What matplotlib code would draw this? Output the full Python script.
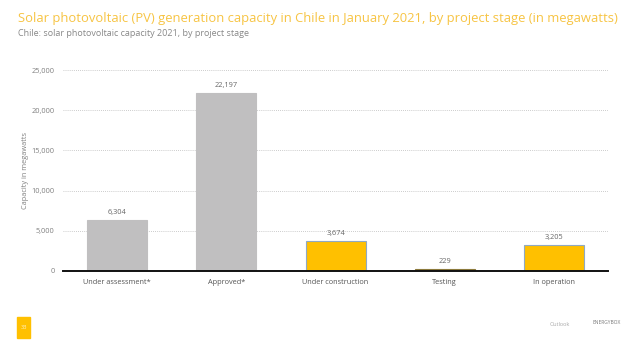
import matplotlib.pyplot as plt

stages = ['Under assessment*', 'Approved*', 'Under construction', 'Testing', 'In operation']
capacity = [6304, 22197, 3674, 229, 3205]
bar_colors = ['#c0bfc0', '#c0bfc0', '#ffc000', '#8c7a3c', '#ffc000']
edge_colors = ['#c0bfc0', '#c0bfc0', '#8fa9c4', '#8c7a3c', '#8fa9c4']
yticks = [0, 5000, 10000, 15000, 20000, 25000]

plt.rcParams['font.family'] = ['Open Sans', 'DejaVu Sans']

fig = plt.figure(figsize=(6.41, 3.5), dpi=100)
ax = fig.add_axes([0.098, 0.226, 0.851, 0.574])

x = range(len(stages))
ax.bar(x, capacity, width=0.55, color=bar_colors, edgecolor=edge_colors, linewidth=0.8, zorder=2)
for i, v in enumerate(capacity):
    ax.text(i, v + 500, f'{v:,}', ha='center', va='bottom', fontsize=5.3, color='#666666')

ax.set_xlim(-0.5, len(stages) - 0.5)
ax.set_ylim(0, 25000)
ax.set_yticks(yticks)
ax.set_yticklabels([f'{t:,}' for t in yticks], fontsize=5.3, color='#808080')
ax.set_xticks(list(x))
ax.set_xticklabels(stages, fontsize=5.3, color='#555555')
ax.tick_params(length=0, pad=6)
ax.yaxis.grid(True, linestyle=(0, (1, 1.5)), color='#bbbbbb', linewidth=0.6, zorder=0)
for s in ['top', 'right', 'left']:
    ax.spines[s].set_visible(False)
ax.spines['bottom'].set_linewidth(1.4)
ax.spines['bottom'].set_color('#111111')
ax.set_ylabel('Capacity in megawatts', fontsize=5.3, color='#808080', labelpad=-1)
ax.yaxis.set_label_coords(-0.062, 0.5)

fig.text(0.028, 0.948, 'Solar photovoltaic (PV) generation capacity in Chile in January 2021, by project stage (in megawatts)',
         fontsize=9.4, color='#f7c443', va='center')
fig.text(0.028, 0.903, 'Chile: solar photovoltaic capacity 2021, by project stage',
         fontsize=6.5, color='#888888', va='center')

# footer
fig.patches.append(plt.Rectangle((0.027, 0.034), 0.02, 0.06, transform=fig.transFigure,
                                 color='#ffc000', zorder=1))
fig.text(0.037, 0.064, '33', fontsize=4, color='#fff2cc', ha='center', va='center')
fig.text(0.858, 0.074, 'Outlook', fontsize=4, color='#aaaaaa', va='center')
fig.text(0.925, 0.078, 'ENERGYBOX', fontsize=3.5, color='#777777', va='center')

fig.savefig('out.png', dpi=100)
